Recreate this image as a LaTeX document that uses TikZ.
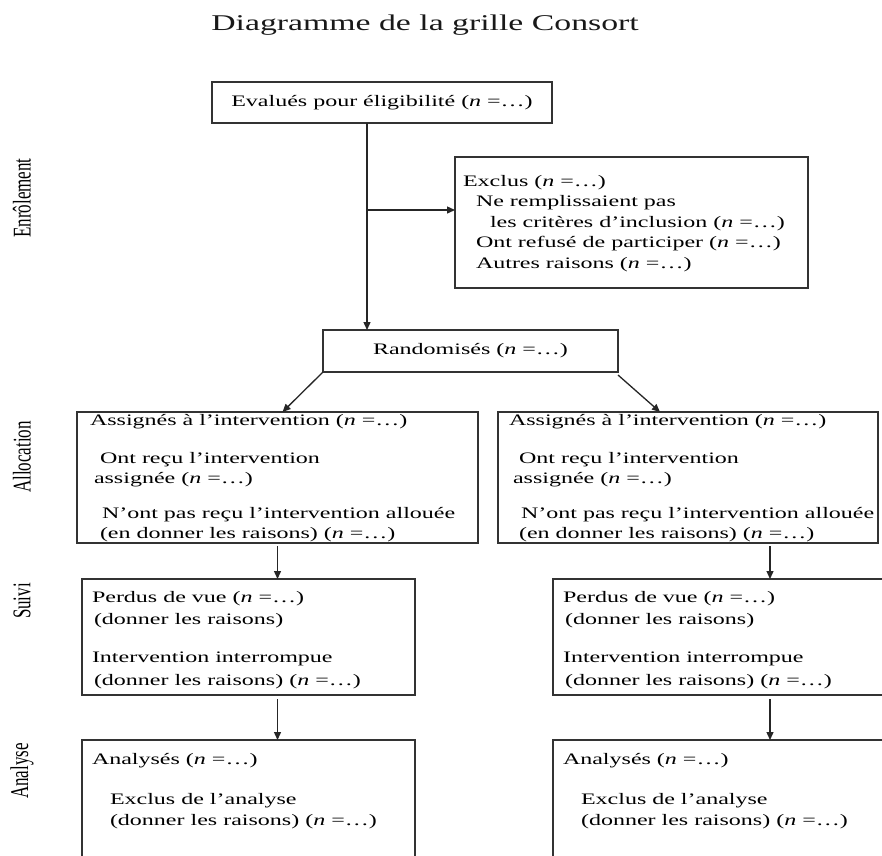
\documentclass[tikz,border=0pt]{standalone}
\usepackage{fontspec}
\usepackage{graphicx}
\setmainfont[FakeStretch=1.5]{Liberation Serif}
\newfontfamily\labfont{Liberation Serif}
\usetikzlibrary{arrows.meta,calc}
\begin{document}
\begin{tikzpicture}[x=1pt,y=-1pt,
  box/.style={draw=black!80, line width=1.5pt, rectangle, anchor=north west, inner sep=0pt, outer sep=0pt},
  txt/.style={anchor=north west, inner sep=0pt, outer sep=0pt, align=left, text=black},
  arr/.style={draw=black!85, line width=1.3pt, -{Triangle[length=8pt,width=7pt]}},
  lab/.style={rotate=90, font=\labfont\fontsize{17}{20}\selectfont, inner sep=0pt, text=black},
  font=\fontsize{16}{20}\selectfont]

\fill[white] (0,0) rectangle (882,855);
\path[use as bounding box] (0,0) rectangle (882,855);
\clip (0,0) rectangle (882,855);

% title
\node[anchor=base, font=\fontsize{22.5}{27}\selectfont, text=black!90] (title) at (425,30) {Diagramme de la grille Consort};

% side labels
\node[lab] (l1) at (22,198) {\scalebox{1}[1.5]{Enrôlement}};
\node[lab] (l2) at (22,457) {\scalebox{1}[1.5]{Allocation}};
\node[lab] (l3) at (22,601) {\scalebox{1}[1.5]{Suivi}};
\node[lab] (l4) at (22,771) {\scalebox{1}[1.5]{Analyse}};

% boxes
\node[box, minimum width=340pt, minimum height=41pt, text=black] (b1) at (212,82) {Evalués pour éligibilité (\textit{n} =…)};

\node[box, minimum width=353pt, minimum height=131pt] (excl) at (455,157) {};
\node[txt] (exclt) at (463,172) {\strut Exclus (\textit{n} =…)\\[0.5pt]
  \hspace*{13pt}\strut Ne remplissaient pas\\[0.5pt]
  \hspace*{27pt}\strut les critères d’inclusion (\textit{n} =…)\\[0.5pt]
  \hspace*{13pt}\strut Ont refusé de participer (\textit{n} =…)\\[0.5pt]
  \hspace*{13pt}\strut Autres raisons (\textit{n} =…)};

\node[box, minimum width=295pt, minimum height=42pt, text=black] (rand) at (323,330) {Randomisés (\textit{n} =…)};

\node[box, minimum width=401pt, minimum height=131pt] (al) at (77,412) {};
\node[txt] (alt) at (90,411) {\strut Assignés à l’intervention (\textit{n} =…)\\[18pt]
  \hspace*{10pt}\strut Ont reçu l’intervention\\
  \hspace*{4pt}\strut assignée (\textit{n} =…)\\[15pt]
  \hspace*{12pt}\strut N’ont pas reçu l’intervention allouée\\
  \hspace*{10pt}\strut (en donner les raisons) (\textit{n} =…)};

\node[box, minimum width=380pt, minimum height=131pt] (ar) at (498,412) {};
\node[txt] (art) at (509,411) {\strut Assignés à l’intervention (\textit{n} =…)\\[18pt]
  \hspace*{10pt}\strut Ont reçu l’intervention\\
  \hspace*{4pt}\strut assignée (\textit{n} =…)\\[15pt]
  \hspace*{12pt}\strut N’ont pas reçu l’intervention allouée\\
  \hspace*{10pt}\strut (en donner les raisons) (\textit{n} =…)};

\node[box, minimum width=333pt, minimum height=116pt] (sl) at (82,579) {};
\node[txt] (slt) at (92,588) {\strut Perdus de vue (\textit{n} =…)\\[2pt]
  \hspace*{2pt}\strut (donner les raisons)\\[18pt]
  \strut Intervention interrompue\\[3pt]
  \hspace*{2pt}\strut (donner les raisons) (\textit{n} =…)};

\node[box, minimum width=345pt, minimum height=116pt] (sr) at (553,579) {};
\node[txt] (srt) at (563,588) {\strut Perdus de vue (\textit{n} =…)\\[2pt]
  \hspace*{2pt}\strut (donner les raisons)\\[18pt]
  \strut Intervention interrompue\\[3pt]
  \hspace*{2pt}\strut (donner les raisons) (\textit{n} =…)};

\node[box, minimum width=333pt, minimum height=140pt] (anl) at (82,740) {};
\node[txt] (anlt) at (92,750) {\strut Analysés (\textit{n} =…)\\[20pt]
  \hspace*{18pt}\strut Exclus de l’analyse\\[1pt]
  \hspace*{18pt}\strut (donner les raisons) (\textit{n} =…)};

\node[box, minimum width=345pt, minimum height=140pt] (anr) at (553,740) {};
\node[txt] (anrt) at (563,750) {\strut Analysés (\textit{n} =…)\\[20pt]
  \hspace*{18pt}\strut Exclus de l’analyse\\[1pt]
  \hspace*{18pt}\strut (donner les raisons) (\textit{n} =…)};

% connectors
\coordinate (tr) at (367,0);
\coordinate (br) at (367,210);
\coordinate (rx) at (770,0);
\draw[arr] (tr |- b1.south) -- (tr |- rand.north);
\draw[arr] (br) -- (br -| excl.west);
\draw[arr] (rand.south west) -- ($(al.north)+(5,0)$);
\draw[arr] ($(rand.south east)+(0,3)$) -- ($(ar.north)+(-28,0)$);
\draw[arr, shorten <=3pt] (al.south) -- (al.south |- sl.north);
\draw[arr, shorten <=4pt] (al.south |- sl.south) -- (al.south |- anl.north);
\draw[arr, shorten <=3pt] (rx |- ar.south) -- (rx |- sr.north);
\draw[arr, shorten <=4pt] (rx |- sr.south) -- (rx |- anr.north);
\end{tikzpicture}
\end{document}
